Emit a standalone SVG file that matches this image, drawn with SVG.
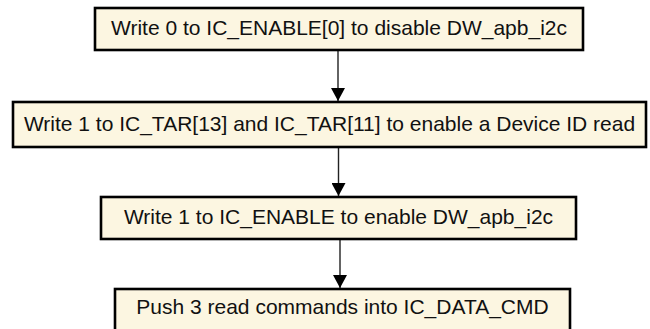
<svg xmlns="http://www.w3.org/2000/svg" width="650" height="329" viewBox="0 0 650 329">
<style>
.box{fill:#fcf6e1;stroke:#000;stroke-width:2.6}
.t{font-family:"Liberation Sans",Arial,sans-serif;font-size:21px;fill:#111;text-anchor:middle}
.c{stroke:#222;stroke-width:1.4;fill:none}
</style>
<defs>
<marker id="ah" markerWidth="13" markerHeight="14" refX="13" refY="7" orient="auto" markerUnits="userSpaceOnUse">
<path d="M0,0 L13,7 L0,14 Z" fill="#000"/>
</marker>
</defs>
<rect width="650" height="329" fill="#fff"/>
<g id="connectors">
<line class="c" x1="338" y1="51" x2="338" y2="101" marker-end="url(#ah)"/>
<line class="c" x1="338.5" y1="148" x2="338.5" y2="196" marker-end="url(#ah)"/>
<line class="c" x1="340" y1="240" x2="340" y2="288" marker-end="url(#ah)"/>
</g>
<g id="n1">
<rect class="box" x="95" y="8" width="488" height="42"/>
<text class="t" x="339" y="35">Write 0 to IC_ENABLE[0] to disable DW_apb_i2c</text>
</g>
<g id="n2">
<rect class="box" x="13" y="102" width="633" height="45"/>
<text class="t" x="329.5" y="131">Write 1 to IC_TAR[13] and IC_TAR[11] to enable a Device ID read</text>
</g>
<g id="n3">
<rect class="box" x="101" y="197" width="475" height="42"/>
<text class="t" x="338.5" y="224">Write 1 to IC_ENABLE to enable DW_apb_i2c</text>
</g>
<g id="n4">
<rect class="box" x="115" y="289" width="455" height="60"/>
<text class="t" x="342.5" y="314">Push 3 read commands into IC_DATA_CMD</text>
</g>
</svg>
